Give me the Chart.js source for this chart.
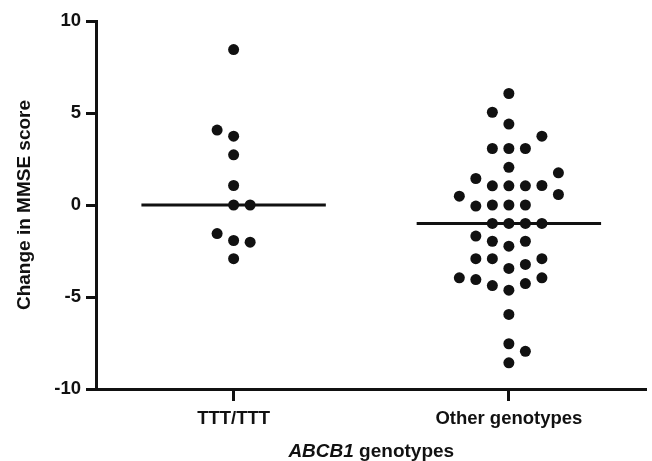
<!DOCTYPE html>
<html>
<head>
<meta charset="utf-8">
<script src="https://cdn.jsdelivr.net/npm/chart.js@4"></script>
<style>
  html, body { margin: 0; padding: 0; background: #fff; }
  #wrap { width: 652px; height: 461px; }
</style>
</head>
<body>
<div id="wrap"><canvas id="mmse"></canvas></div>
<script>
// genotype groups
var categories = ['TTT/TTT', 'Other genotypes'];
// change in MMSE score per patient (order only decides the swarm stacking)
var tttValues = [8.45, 3.74, 4.07, 2.73, 1.06, 0, 0, -1.93, -1.55, -2.02, -2.92];
var otherValues = [6.06, 4.4, 5.04, 3.07, 3.07, 3.07, 3.74, 2.05, 1.04, 1.04, 1.04, 1.44, 1.06,
  0, 0, 0, -0.06, -1, -1, -1, -1, -2.24, -1.97, -1.97, -1.69, -3.45, -3.23, -2.92, -2.92, -2.92,
  -4.63, -4.27, -4.38, -3.96, -4.05, 1.75, -3.96, -5.95, -7.54, -8.58, -7.95, 0.48, 0.57];
var yTicks = [-10, -5, 0, 5, 10];
var xTitleItalic = 'ABCB1';
var xTitleRest = ' genotypes';
var yTitle = 'Change in MMSE score';

var ink = '#111';
var fontFamily = '"Liberation Sans", Arial, Helvetica, sans-serif';

// simple column swarm: stack points that would overlap into side columns
function swarm(values, gap) {
  var placed = [], left = 0, right = 0;
  return values.map(function (v) {
    for (var k = 0; k < 12; k++) {
      var sides = k === 0 ? [0] : (left <= right ? [-k, k] : [k, -k]);
      for (var i = 0; i < sides.length; i++) {
        var s = sides[i];
        var hit = placed.some(function (p) { return p.slot === s && Math.abs(p.v - v) < gap; });
        if (!hit) {
          placed.push({ slot: s, v: v });
          if (s < 0) left++;
          if (s > 0) right++;
          return s;
        }
      }
    }
    return 0;
  });
}

function median(values) {
  var s = values.slice().sort(function (a, b) { return a - b; });
  var m = Math.floor(s.length / 2);
  return s.length % 2 ? s[m] : (s[m - 1] + s[m]) / 2;
}

var groups = [tttValues, otherValues];
var points = [];
var medianLines = [];
groups.forEach(function (vals, g) {
  var slots = swarm(vals, 0.8);
  vals.forEach(function (v, i) {
    points.push({ x: g + 1 + slots[i] * 0.06, y: v });
  });
  var m = median(vals);
  medianLines.push([{ x: g + 1 - 0.335, y: m }, { x: g + 1 + 0.335, y: m }]);
});

var xTitlePlugin = {
  id: 'xTitle',
  afterDraw: function (chart) {
    var ctx = chart.ctx;
    var a = chart.chartArea;
    ctx.save();
    ctx.fillStyle = ink;
    ctx.textBaseline = 'alphabetic';
    ctx.font = 'italic bold 19px ' + fontFamily;
    var w1 = ctx.measureText(xTitleItalic).width;
    ctx.font = 'bold 19px ' + fontFamily;
    var w2 = ctx.measureText(xTitleRest).width;
    var x0 = (a.left + a.right) / 2 - (w1 + w2) / 2;
    ctx.font = 'italic bold 19px ' + fontFamily;
    ctx.fillText(xTitleItalic, x0, 457);
    ctx.font = 'bold 19px ' + fontFamily;
    ctx.fillText(xTitleRest, x0 + w1, 457);
    ctx.restore();
  }
};

Chart.defaults.font.family = fontFamily;
Chart.defaults.color = ink;

var ctx = document.getElementById('mmse');
var myChart = new Chart(ctx, {
  type: 'scatter',
  data: {
    datasets: [{
      label: 'scores',
      data: points,
      backgroundColor: ink,
      borderColor: ink,
      borderWidth: 0,
      pointRadius: 5.5,
      pointHoverRadius: 5.5
    }].concat(medianLines.map(function (line, i) {
      return {
        label: 'median ' + categories[i],
        type: 'line',
        data: line,
        borderColor: ink,
        borderWidth: 3,
        pointRadius: 0,
        fill: false
      };
    }))
  },
  options: {
    responsive: true,
    maintainAspectRatio: false,
    animation: false,
    layout: { padding: { left: 0, right: 3, top: 21, bottom: 0 } },
    plugins: { legend: { display: false }, tooltip: { enabled: false } },
    scales: {
      x: {
        type: 'linear',
        min: 0.5,
        max: 2.5,
        afterBuildTicks: function (s) {
          s.ticks = categories.map(function (c, i) { return { value: i + 1 }; });
        },
        afterFit: function (s) { s.height = 72; },
        ticks: {
          font: { size: 18.5, weight: 'bold' },
          padding: 7,
          maxRotation: 0,
          callback: function (v) { return categories[v - 1]; }
        },
        grid: { drawOnChartArea: false, drawTicks: true, tickLength: 12, tickWidth: 3, tickColor: ink },
        border: { display: true, width: 3, color: ink }
      },
      y: {
        min: -10,
        max: 10,
        afterBuildTicks: function (s) {
          s.ticks = yTicks.map(function (v) { return { value: v }; });
        },
        afterFit: function (s) { s.width = 96; },
        ticks: { font: { size: 18.5, weight: 'bold' }, padding: 5 },
        grid: { drawOnChartArea: false, drawTicks: true, tickLength: 10, tickWidth: 3, tickColor: ink },
        border: { display: true, width: 3, color: ink },
        title: {
          display: true,
          text: yTitle,
          font: { size: 19, weight: 'bold' },
          padding: { top: 13, bottom: 0 }
        }
      }
    }
  },
  plugins: [xTitlePlugin]
});
</script>
</body>
</html>
